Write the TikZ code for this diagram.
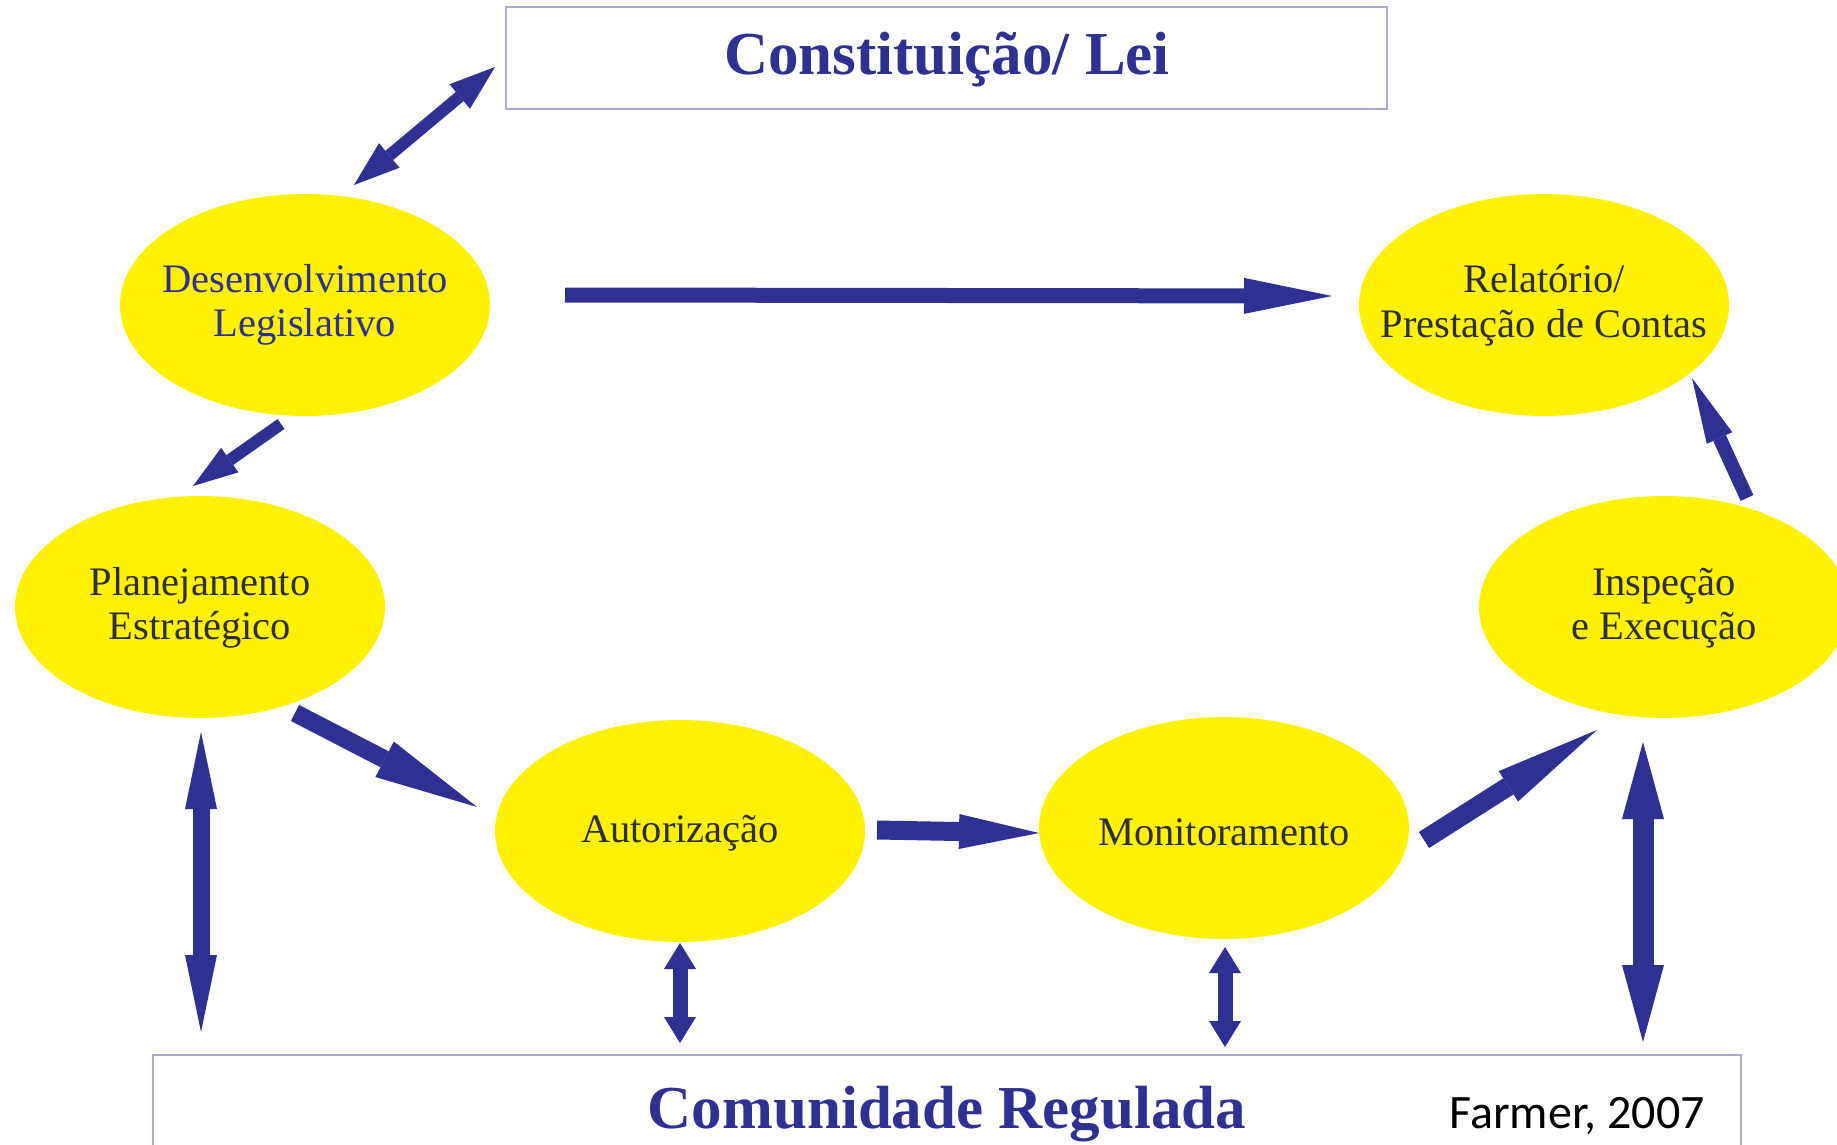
\documentclass[tikz,border=0pt]{standalone}
\usepackage{fontspec}
\setmainfont{Liberation Serif}
\newfontfamily\calib{Carlito}
\usetikzlibrary{shapes.geometric,arrows.meta}
\definecolor{navy}{RGB}{46,49,146}
\definecolor{ytext}{RGB}{45,45,70}
\definecolor{yel}{RGB}{255,242,0}
\definecolor{boxline}{RGB}{170,170,215}
\tikzset{
  ell/.style={ellipse, fill=yel, draw=none, minimum width=370pt, minimum height=222pt, inner sep=0pt},
  etext/.style={align=center, inner sep=0pt, font=\fontsize{40.5}{44.5}\selectfont},
  bigbox/.style={draw=boxline, line width=2pt, fill=white},
  title/.style={inner sep=0pt, text=navy, font=\fontsize{61}{61}\selectfont\bfseries},
  blk/.style n args={3}{draw=navy, line width=#1, line cap=butt, -{Triangle[width=#2,length=#3,line width=0pt,fill=navy]}},
  dblk/.style n args={3}{draw=navy, line width=#1, line cap=butt, {Triangle[width=#2,length=#3,line width=0pt,fill=navy]}-{Triangle[width=#2,length=#3,line width=0pt,fill=navy]}}
}
\begin{document}
\begin{tikzpicture}[x=1pt,y=-1pt]
\useasboundingbox (0,0) rectangle (1837,1145);
\clip (0,0) rectangle (1837,1145);
\fill[white] (0,0) rectangle (1837,1145);
% boxes
\draw[bigbox] (506,7) rectangle (1387,109);
\node[title] (lei) at (947,60) {Constituição/ Lei};
\draw[bigbox] (153,1055) rectangle (1741,1200);
\node[title] (com) at (947,1114) {Comunidade Regulada};
\node[inner sep=0pt, font=\calib\fontsize{48}{48}\selectfont] (farmer) at (1577,1116) {Farmer, 2007};
% ellipses
\node[ell] (dev) at (305,305) {};
\node[etext, text=navy] (devt) at (dev.center) {Desenvolvimento\\Legislativo};
\node[ell] (rel) at (1544,305) {};
\node[etext, text=ytext] (relt) at (rel.center) {Relatório/\\Prestação de Contas};
\node[ell] (plan) at (200,607) {};
\node[etext, text=ytext] (plant) at ([yshift=-1pt]plan.center) {Planejamento\\Estratégico};
\node[ell] (insp) at (1664,607) {};
\node[etext, text=ytext] (inspt) at ([yshift=-1pt]insp.center) {Inspeção\\e Execução};
\node[ell] (aut) at (680,831) {};
\node[etext, text=ytext] (autt) at ([yshift=-2pt]aut.center) {Autorização};
\node[ell] (mon) at (1224,828) {};
\node[etext, text=ytext] (mont) at ([yshift=-4pt]mon.center) {Monitoramento};
% arrow end points
\coordinate (a1s) at (354,185);  \coordinate (a1e) at (495,67);
\coordinate (a2s) at (281,424);  \coordinate (a2e) at (193,486);
\coordinate (a3s) at (565,295);  \coordinate (a3e) at (1332,296);
\coordinate (a4s) at (1747,498); \coordinate (a4e) at (1692,378);
\coordinate (a5s) at (295,713);  \coordinate (a5e) at (477,807);
\coordinate (a6s) at (201,732);  \coordinate (a6e) at (201,1032);
\coordinate (a7s) at (877,830);  \coordinate (a7e) at (1039,833);
\coordinate (a8s) at (680,943);  \coordinate (a8e) at (680,1043);
\coordinate (a9s) at (1225,947); \coordinate (a9e) at (1225,1047);
\coordinate (a10s) at (1424,840); \coordinate (a10e) at (1597,730);
\coordinate (a11s) at (1643,742); \coordinate (a11e) at (1643,1042);
% arrows
\draw[dblk={12pt}{32pt}{46pt}] (a1s) -- (a1e);
\draw[blk={12pt}{30pt}{45pt}] (a2s) -- (a2e);
\draw[blk={15pt}{36pt}{88pt}] (a3s) -- (a3e);
\draw[blk={14pt}{28pt}{66pt}] (a4s) -- (a4e);
\draw[blk={18pt}{40pt}{104pt}] (a5s) -- (a5e);
\draw[dblk={17pt}{32pt}{77pt}] (a6s) -- (a6e);
\draw[blk={19pt}{35pt}{80pt}] (a7s) -- (a7e);
\draw[dblk={15pt}{32pt}{26pt}] (a8s) -- (a8e);
\draw[dblk={15pt}{32pt}{26pt}] (a9s) -- (a9e);
\draw[blk={19pt}{36pt}{105pt}] (a10s) -- (a10e);
\draw[dblk={21pt}{42pt}{77pt}] (a11s) -- (a11e);
\end{tikzpicture}
\end{document}
